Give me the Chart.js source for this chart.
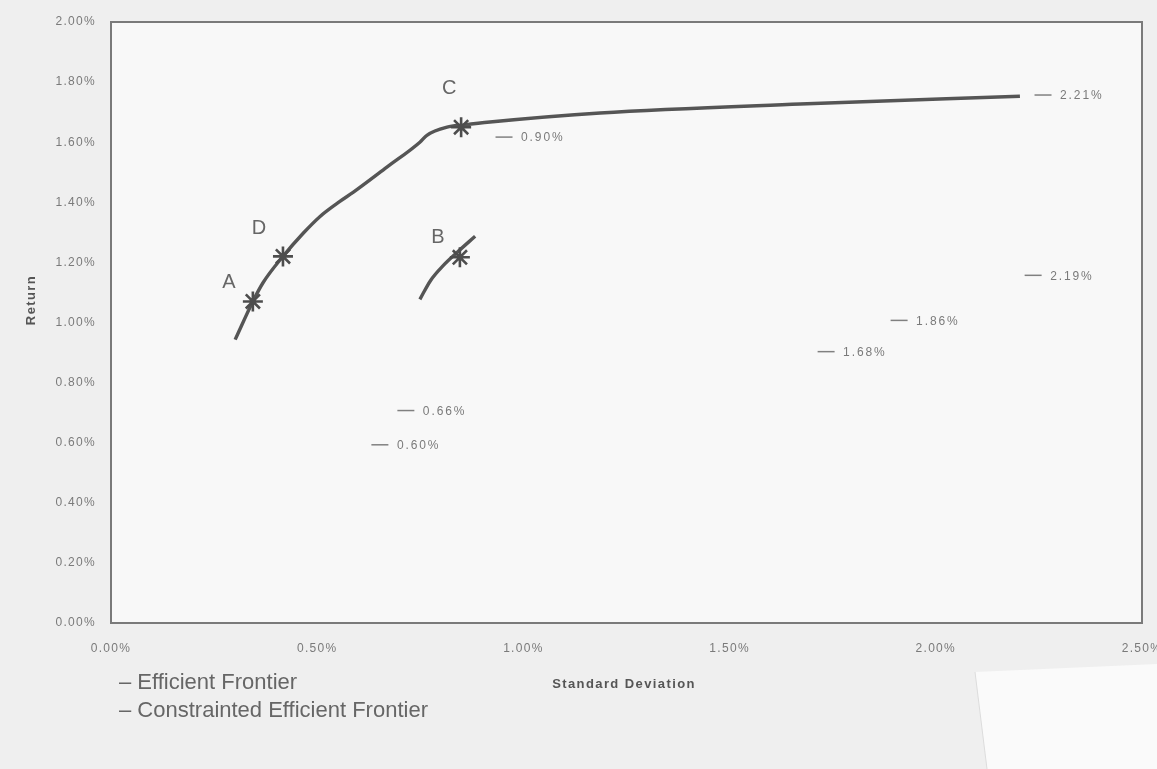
<!DOCTYPE html>
<html><head><meta charset="utf-8">
<script src="https://cdn.jsdelivr.net/npm/chart.js@4.4.1/dist/chart.umd.min.js"></script>
<style>html,body{margin:0;padding:0;background:#efefef;}#wrap{width:1157px;height:769px;position:relative;}</style>
</head><body><div id="wrap"><canvas id="c" width="1157" height="769"></canvas></div>
<script>
// Efficient frontier (SD %, Return %)
const effSD  = [0.301,0.344,0.369,0.417,0.466,0.507,0.555,0.587,0.669,0.749,0.766,0.815,0.854,0.919,1.186,1.671,2.204];
const effRet = [0.943,1.070,1.133,1.220,1.297,1.353,1.403,1.433,1.517,1.600,1.623,1.650,1.657,1.667,1.697,1.727,1.753];
// Constrained efficient frontier
const conSD  = [0.749,0.775,0.806,0.839,0.883];
const conRet = [1.077,1.140,1.190,1.233,1.287];
// Marked portfolios
const markNames = ['A','D','C','B'];
const markSD    = [0.344,0.417,0.849,0.846];
const markRet   = [1.070,1.220,1.650,1.217];
// Individual assets
const assetSD     = [0.953,2.260,2.236,1.911,1.734,0.715,0.652];
const assetRet    = [1.617,1.757,1.157,1.007,0.903,0.707,0.593];
const assetLabels = ['0.90%','2.21%','2.19%','1.86%','1.68%','0.66%','0.60%'];
// Axis ticks
const xTicks = [0,0.5,1.0,1.5,2.0,2.5];
const yTicks = [0,0.2,0.4,0.6,0.8,1.0,1.2,1.4,1.6,1.8,2.0];
const legendItems = ['Efficient Frontier','Constrainted Efficient Frontier'];

const pts = (xs,ys)=>xs.map((x,i)=>({x:x,y:ys[i]}));
const FONT = '"Liberation Sans", Arial, sans-serif';
const GREY = '#555';

const spacing = {
  id:'spacing',
  beforeUpdate(chart){ chart.ctx.letterSpacing = '1.3px'; },
  beforeLayout(chart){ chart.ctx.letterSpacing = '1.3px'; },
  beforeDraw(chart){ chart.ctx.letterSpacing = '1.3px'; }
};

const decor = {
  id:'decor',
  beforeDraw(chart){
    const {ctx, chartArea:a} = chart;
    ctx.save();
    ctx.fillStyle = '#efefef';
    ctx.fillRect(0,0,chart.width,chart.height);
    // paper patch bottom right
    ctx.fillStyle = '#fafafa';
    ctx.beginPath();
    ctx.moveTo(975,672); ctx.lineTo(1157,664); ctx.lineTo(1157,769); ctx.lineTo(987,769); ctx.closePath(); ctx.fill();
    ctx.strokeStyle = '#dcdcdc'; ctx.lineWidth = 1;
    ctx.beginPath(); ctx.moveTo(975,672); ctx.lineTo(987,769); ctx.stroke();
    ctx.fillStyle = '#f8f8f8';
    ctx.fillRect(a.left,a.top,a.right-a.left,a.bottom-a.top);
    ctx.restore();
  },
  afterDraw(chart){
    const {ctx, chartArea:a, scales} = chart;
    const xs = scales.x, ys = scales.y;
    ctx.save();
    ctx.strokeStyle = '#7a7a7a'; ctx.lineWidth = 2;
    ctx.strokeRect(a.left,a.top,a.right-a.left,a.bottom-a.top);
    // asset labels
    ctx.letterSpacing = '1.9px';
    ctx.fillStyle = '#7a7a7a'; ctx.font = '12px '+FONT; ctx.textBaseline='middle'; ctx.textAlign='left';
    assetLabels.forEach((t,i)=>{
      const px = xs.getPixelForValue(assetSD[i]), py = ys.getPixelForValue(assetRet[i]);
      ctx.fillText(t, px+17, py+1);
    });
    // mark letters
    ctx.letterSpacing = '0px';
    ctx.fillStyle = '#666'; ctx.font = '20px '+FONT; ctx.textAlign='center';
    const off = {A:[-24,-19],D:[-24,-28],C:[-12,-39],B:[-22,-20]};
    markNames.forEach((n,i)=>{
      const px = xs.getPixelForValue(markSD[i]), py = ys.getPixelForValue(markRet[i]);
      ctx.fillText(n, px+off[n][0], py+off[n][1]);
    });
    // axis titles
    ctx.letterSpacing = '1.4px';
    ctx.fillStyle = '#555'; ctx.font = 'bold 13px '+FONT; ctx.textAlign='center';
    ctx.fillText('Standard Deviation', 624, 684);
    ctx.save();
    ctx.translate(31, 300); ctx.rotate(-Math.PI/2);
    ctx.fillText('Return',0,0);
    ctx.restore();
    // legend
    ctx.letterSpacing = '0px';
    ctx.fillStyle = '#666'; ctx.font = '22px '+FONT; ctx.textAlign='left'; ctx.textBaseline='middle';
    legendItems.forEach((t,i)=>{
      ctx.fillText('\u2013 '+t, 119, 683+i*28);
    });
    ctx.restore();
  }
};

new Chart(document.getElementById('c'), {
  type:'scatter',
  data:{datasets:[
    {label:'Efficient Frontier', data:pts(effSD,effRet), showLine:true, borderColor:GREY, borderWidth:3.4, pointRadius:0, cubicInterpolationMode:'monotone', order:2},
    {label:'Constrainted Efficient Frontier', data:pts(conSD,conRet), showLine:true, borderColor:GREY, borderWidth:3.4, pointRadius:0, cubicInterpolationMode:'monotone', order:2},
    {label:'Portfolios', data:pts(markSD,markRet), pointStyle:'star', pointRadius:10, borderColor:'#4d4d4d', borderWidth:2.6, backgroundColor:'#4d4d4d', order:1},
    {label:'Assets', data:pts(assetSD,assetRet), pointStyle:'line', pointRadius:8.5, borderColor:'#808080', borderWidth:1.5, order:1}
  ]},
  options:{
    responsive:false, animation:false, devicePixelRatio:1,
    layout:{padding:{left:0,right:15,top:22,bottom:0}},
    plugins:{legend:{display:false}, tooltip:{enabled:false}},
    scales:{
      x:{type:'linear', min:0, max:2.5,
         afterFit(s){s.height=146; s.paddingLeft=0; s.paddingRight=0;},
         afterBuildTicks(s){s.ticks = xTicks.map(v=>({value:v}));},
         grid:{display:false, drawTicks:false},
         border:{display:true,color:'#7a7a7a',width:2},
         ticks:{padding:18, color:'#7a7a7a', font:{family:FONT,size:12}, maxRotation:0, callback:v=>v.toFixed(2)+'%'}
      },
      y:{type:'linear', min:0, max:2.0,
         afterFit(s){s.width=111; s.paddingTop=0; s.paddingBottom=0;},
         afterBuildTicks(s){s.ticks = yTicks.map(v=>({value:v}));},
         grid:{display:false, drawTicks:false},
         border:{display:true,color:'#7a7a7a',width:2},
         ticks:{padding:15, color:'#7a7a7a', font:{family:FONT,size:12}, callback:v=>v.toFixed(2)+'%'}
      }
    }
  },
  plugins:[spacing, decor]
});
</script></body></html>
